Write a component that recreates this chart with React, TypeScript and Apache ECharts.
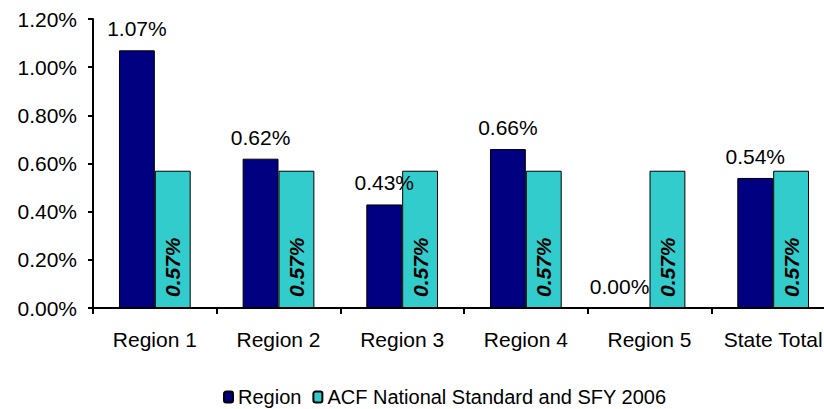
import React, { useEffect, useRef } from "react";
import * as echarts from "echarts";

const categories = ["Region 1", "Region 2", "Region 3", "Region 4", "Region 5", "State Total"];
const regionValues = [1.07, 0.62, 0.43, 0.66, 0.0, 0.54];
const standardValues = [0.57, 0.57, 0.57, 0.57, 0.57, 0.57];
const seriesNames = ["Region", "ACF National Standard and SFY 2006"];

const FONT = "Liberation Sans, Arial, sans-serif";

export default function App() {
  const ref = useRef<HTMLDivElement>(null);
  useEffect(() => {
    if (!ref.current) return;
    const chart = echarts.init(ref.current, null, { renderer: "svg" });
    const regionData = regionValues.map((v) =>
      v === 0 ? { value: v, label: { offset: [-12, 0] } } : v
    );
    chart.setOption({
      animation: false,
      backgroundColor: "#ffffff",
      textStyle: { fontFamily: FONT },
      grid: {
        left: 93,
        top: 19,
        width: 742,
        height: 289,
        containLabel: false,
        outerBoundsMode: "none",
      },
      legend: {
        left: 223,
        top: 387,
        padding: 0,
        itemWidth: 9,
        itemHeight: 11,
        itemGap: 11,
        textStyle: { fontFamily: FONT, fontSize: 20, color: "#000" },
        data: seriesNames,
      },
      xAxis: {
        type: "category",
        data: categories,
        axisLine: { lineStyle: { color: "#000", width: 2 } },
        axisTick: { show: true, length: 6, lineStyle: { color: "#000", width: 2 } },
        axisLabel: { fontFamily: FONT, fontSize: 21, color: "#000", margin: 21, interval: 0 },
      },
      yAxis: {
        type: "value",
        min: 0,
        max: 1.2,
        interval: 0.2,
        splitLine: { show: false },
        axisLine: { show: true, lineStyle: { color: "#000", width: 2 } },
        axisTick: { show: true, length: 5, lineStyle: { color: "#000", width: 2 } },
        axisLabel: {
          fontFamily: FONT,
          fontSize: 21,
          color: "#000",
          margin: 16,
          formatter: (v: number) => v.toFixed(2) + "%",
        },
      },
      series: [
        {
          name: seriesNames[0],
          type: "bar",
          data: regionData,
          barGap: "0%",
          barCategoryGap: "42%",
          itemStyle: { color: "#000080", borderColor: "#000", borderWidth: 1 },
          label: {
            show: true,
            position: "top",
            distance: 11,
            fontFamily: FONT,
            fontSize: 21,
            color: "#000",
            formatter: (p: any) => Number(p.value).toFixed(2) + "%",
          },
        },
        {
          name: seriesNames[1],
          type: "bar",
          data: standardValues,
          barGap: "0%",
          barCategoryGap: "42%",
          itemStyle: { color: "#33CCCC", borderColor: "#000", borderWidth: 1 },
          label: {
            show: true,
            position: "insideBottom",
            rotate: 90,
            align: "left",
            verticalAlign: "middle",
            distance: 11,
            fontFamily: FONT,
            fontSize: 21,
            fontWeight: "bold",
            fontStyle: "italic",
            color: "#000",
            formatter: (p: any) => Number(p.value).toFixed(2) + "%",
          },
        },
      ],
    });
    return () => chart.dispose();
  }, []);
  return (
    <div
      ref={ref}
      style={{ position: "fixed", left: 0, top: 0, width: 824, height: 409, background: "#fff" }}
    />
  );
}
